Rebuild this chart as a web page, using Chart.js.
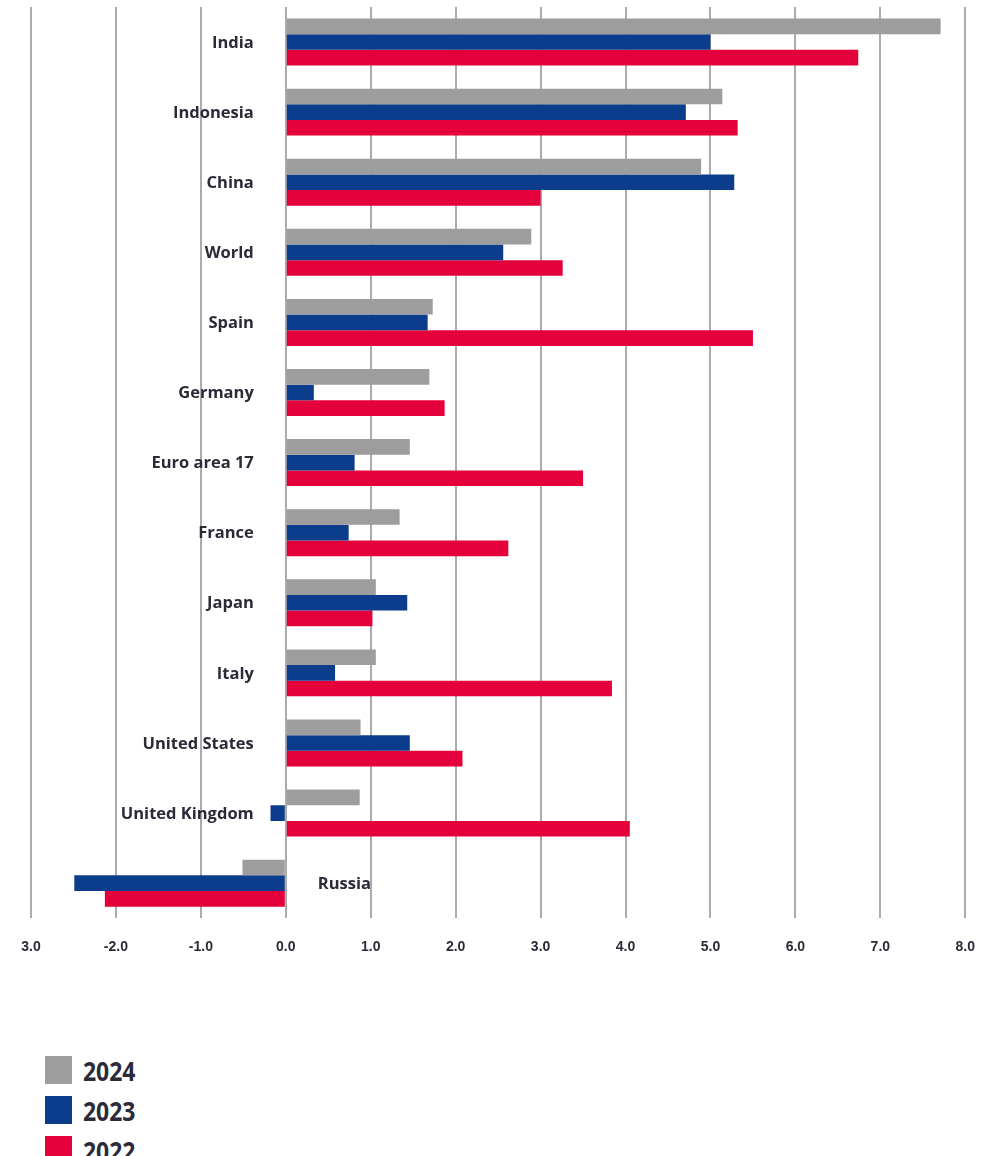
<!DOCTYPE html>
<html>
<head>
<meta charset="utf-8">
<script src="https://cdn.jsdelivr.net/npm/chart.js@4/dist/chart.umd.min.js"></script>
<style>
  html, body { margin: 0; padding: 0; background: #fff; }
  #wrap { position: relative; width: 996px; height: 983px; }
  #legend { position: absolute; left: 45px; top: 1050px; font-family: "Open Sans", sans-serif; font-weight: bold; font-size: 27px; color: #2a2a38; }
  .item { display: flex; align-items: center; height: 40px; }
  .sw { width: 27px; height: 28px; margin-right: 11px; flex: none; }
  .item span { display: inline-block; transform: scaleX(0.85); transform-origin: left center; }
</style>
</head>
<body>
<div id="wrap"><canvas id="c"></canvas></div>
<div id="legend"></div>
<script>
const categories = ["India","Indonesia","China","World","Spain","Germany","Euro area 17","France","Japan","Italy","United States","United Kingdom","Russia"];
const series2024 = [7.71, 5.14, 4.89, 2.89, 1.73, 1.69, 1.46, 1.34, 1.06, 1.06, 0.88, 0.87, -0.51];
const series2023 = [5.00, 4.71, 5.28, 2.56, 1.67, 0.33, 0.81, 0.74, 1.43, 0.58, 1.46, -0.18, -2.49];
const series2022 = [6.74, 5.32, 3.00, 3.26, 5.50, 1.87, 3.50, 2.62, 1.02, 3.84, 2.08, 4.05, -2.13];
const tickLabels = ["3.0","-2.0","-1.0","0.0","1.0","2.0","3.0","4.0","5.0","6.0","7.0","8.0"];
const seriesNames = ["2024","2023","2022"];
const colors = ["#9d9d9d","#0b3d8c","#e4003b"];

const catLabelPlugin = {
  id: 'catLabels',
  afterDatasetsDraw(chart) {
    const ctx = chart.ctx;
    const xs = chart.scales.x, ys = chart.scales.y;
    const x0 = xs.getPixelForValue(0);
    ctx.save();
    ctx.font = 'bold 16.5px "Open Sans", sans-serif';
    ctx.fillStyle = '#2a2a38';
    ctx.textBaseline = 'middle';
    categories.forEach((c, i) => {
      const y = ys.getPixelForValue(i) + 1;
      const vals = [series2024[i], series2023[i], series2022[i]];
      const allNeg = vals.every(v => v <= 0);
      if (allNeg) {
        ctx.textAlign = 'left';
        ctx.fillText(c, x0 + 32, y);
      } else {
        ctx.textAlign = 'right';
        ctx.fillText(c, x0 - 32, y);
      }
    });
    ctx.restore();
  }
};

new Chart(document.getElementById('c'), {
  type: 'bar',
  data: {
    labels: categories,
    datasets: [
      { label: seriesNames[0], data: series2024, backgroundColor: colors[0] },
      { label: seriesNames[1], data: series2023, backgroundColor: colors[1] },
      { label: seriesNames[2], data: series2022, backgroundColor: colors[2] }
    ]
  },
  options: {
    indexAxis: 'y',
    responsive: true,
    maintainAspectRatio: false,
    animation: false,
    layout: { padding: { left: 31, right: 29, top: 7, bottom: 6 } },
    datasets: { bar: { categoryPercentage: 0.67, barPercentage: 1.0 } },
    plugins: { legend: { display: false }, tooltip: { enabled: false } },
    scales: {
      x: {
        min: -3, max: 8,
        border: { display: false },
        grid: { color: '#ababab', lineWidth: 2, drawTicks: false },
        ticks: {
          stepSize: 1,
          padding: 21,
          color: '#2a2a38',
          font: { family: '"Liberation Sans", sans-serif', weight: 'bold', size: 14 },
          callback: (v, i) => tickLabels[i]
        }
      },
      y: {
        display: false,
        grid: { display: false }
      }
    }
  },
  plugins: [catLabelPlugin]
});

const lg = document.getElementById('legend');
seriesNames.forEach((n, i) => {
  const d = document.createElement('div');
  d.className = 'item';
  d.innerHTML = '<div class="sw" style="background:' + colors[i] + '"></div><span>' + n + '</span>';
  lg.appendChild(d);
});
</script>
</body>
</html>
